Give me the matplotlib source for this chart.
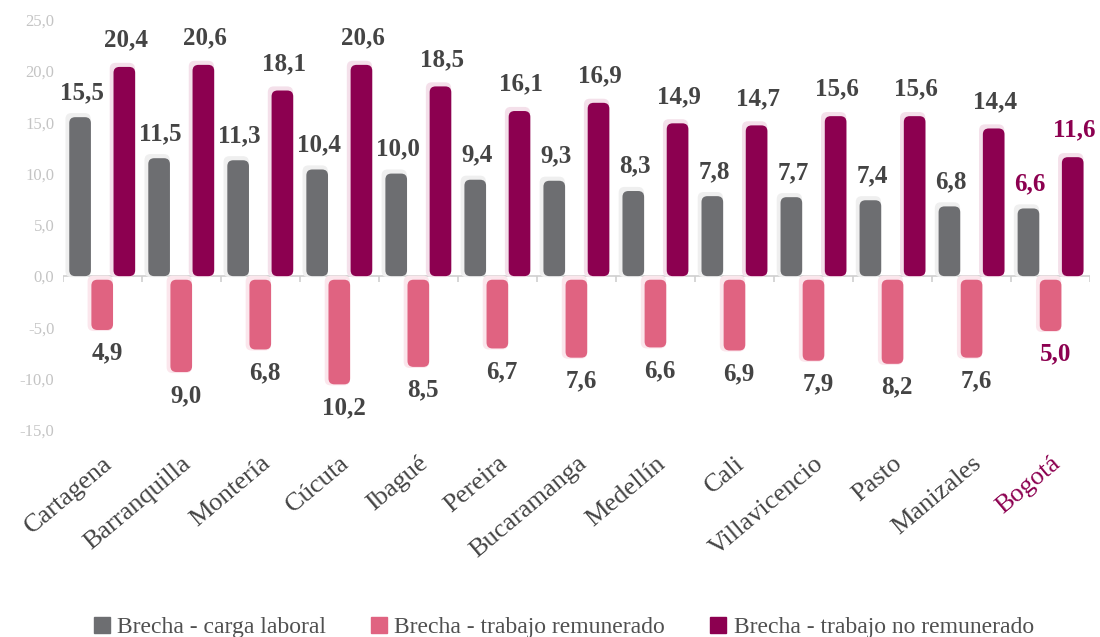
import numpy as np
import matplotlib
matplotlib.use("Agg")
import matplotlib.pyplot as plt
from matplotlib.patches import FancyBboxPatch
from matplotlib.lines import Line2D

# datos
ciudades = ["Cartagena", "Barranquilla", "Montería", "Cúcuta", "Ibagué", "Pereira",
            "Bucaramanga", "Medellín", "Cali", "Villavicencio", "Pasto", "Manizales", "Bogotá"]
carga_laboral = [15.5, 11.5, 11.3, 10.4, 10.0, 9.4, 9.3, 8.3, 7.8, 7.7, 7.4, 6.8, 6.6]
trabajo_remunerado = [-4.9, -9.0, -6.8, -10.2, -8.5, -6.7, -7.6, -6.6, -6.9, -7.9, -8.2, -7.6, -5.0]
trabajo_no_remunerado = [20.4, 20.6, 18.1, 20.6, 18.5, 16.1, 16.9, 14.9, 14.7, 15.6, 15.6, 14.4, 11.6]
y_ticks = [-15, -10, -5, 0, 5, 10, 15, 20, 25]

GRIS = "#6d6e71"
ROSA = "#e06381"
MAGENTA = "#8c0050"
TEXTO = "#444444"
FUENTE = "Liberation Serif"

plt.rcParams['font.family'] = [FUENTE, 'DejaVu Serif']

fig = plt.figure(figsize=(11, 6.37), dpi=100)
ax = fig.add_axes([0.057, 0.325, 0.934, 0.644])
ax.set_xlim(-0.5, len(ciudades) - 0.5)
ax.set_ylim(-15, 25)

x = np.arange(len(ciudades))
ancho = 0.28
r = 0.075
aspecto = (40 / 410) / (13 / 1027)  # unidades y por unidad x, para esquinas redondas


def barras_redondeadas(xs, valores, color, sombra):
    for xi, v in zip(xs, valores):
        y0 = min(0, v)
        h = abs(v)
        if v < 0:
            y0 -= 0.35
        # halo claro detras
        halo = FancyBboxPatch((xi - ancho / 2 - 0.045, y0 - 0.1), ancho + 0.04, h + 0.5,
                              boxstyle=f"round,pad=0,rounding_size={r}",
                              mutation_aspect=aspecto, fc=sombra, ec="none", zorder=2)
        ax.add_patch(halo)
        p = FancyBboxPatch((xi - ancho / 2 + 0.003, y0), ancho - 0.006, h,
                           boxstyle=f"round,pad=0,rounding_size={r}",
                           mutation_aspect=aspecto, fc=color, ec="none", zorder=3)
        ax.add_patch(p)


barras_redondeadas(x - ancho, carga_laboral, GRIS, "#efefef")
barras_redondeadas(x, trabajo_remunerado, ROSA, "#fbe6ec")
barras_redondeadas(x + ancho, trabajo_no_remunerado, MAGENTA, "#f4e0ea")

# etiquetas de valores
def fmt(v):
    return f"{abs(v):.1f}".replace(".", ",")

for i in range(len(ciudades)):
    col = MAGENTA if ciudades[i] == "Bogotá" else TEXTO
    ax.text(x[i] - ancho + 0.02, carga_laboral[i] + 1.3, fmt(carga_laboral[i]), ha="center", va="bottom",
            fontsize=18, fontweight="bold", color=col, zorder=4)
    ax.text(x[i] + 0.06, trabajo_remunerado[i] - 1.5, fmt(trabajo_remunerado[i]), ha="center", va="top",
            fontsize=18, fontweight="bold", color=col, zorder=4)
    ax.text(x[i] + ancho + 0.02, trabajo_no_remunerado[i] + 1.5, fmt(trabajo_no_remunerado[i]), ha="center",
            va="bottom", fontsize=18, fontweight="bold", color=col, zorder=4)

# eje en cero
ax.axhline(0, color="#cfcfcf", lw=1.2, zorder=1)
ax.vlines(np.arange(len(ciudades) + 1) - 0.5, -0.55, 0, color="#cfcfcf", lw=1.2, zorder=1)

for s in ax.spines.values():
    s.set_visible(False)

ax.set_yticks(y_ticks)
ax.set_yticklabels([f"{v:.1f}".replace(".", ",") for v in y_ticks], fontsize=12, color="#c4c4c4")
ax.tick_params(axis="y", length=0, pad=6)

ax.set_xticks(x)
ax.set_xticklabels(ciudades, rotation=40, ha="right", rotation_mode="anchor", fontsize=19, color=TEXTO)
ax.tick_params(axis="x", length=0, pad=16)
ax.get_xticklabels()[-1].set_color(MAGENTA)

# leyenda
handles = [Line2D([0], [0], marker="s", ls="none", markersize=11, markerfacecolor=c, markeredgecolor=c)
           for c in (GRIS, ROSA, MAGENTA)]
etiquetas = ["Brecha - carga laboral", "Brecha - trabajo remunerado", "Brecha - trabajo no remunerado"]
fig.legend(handles, etiquetas, loc="lower center", bbox_to_anchor=(0.508, -0.035), ncol=3, frameon=False,
           prop={"family": FUENTE, "size": 17}, labelcolor="#505050", handletextpad=-0.1,
           columnspacing=1.5, handlelength=1.5)

fig.savefig("out.png", dpi=100)
